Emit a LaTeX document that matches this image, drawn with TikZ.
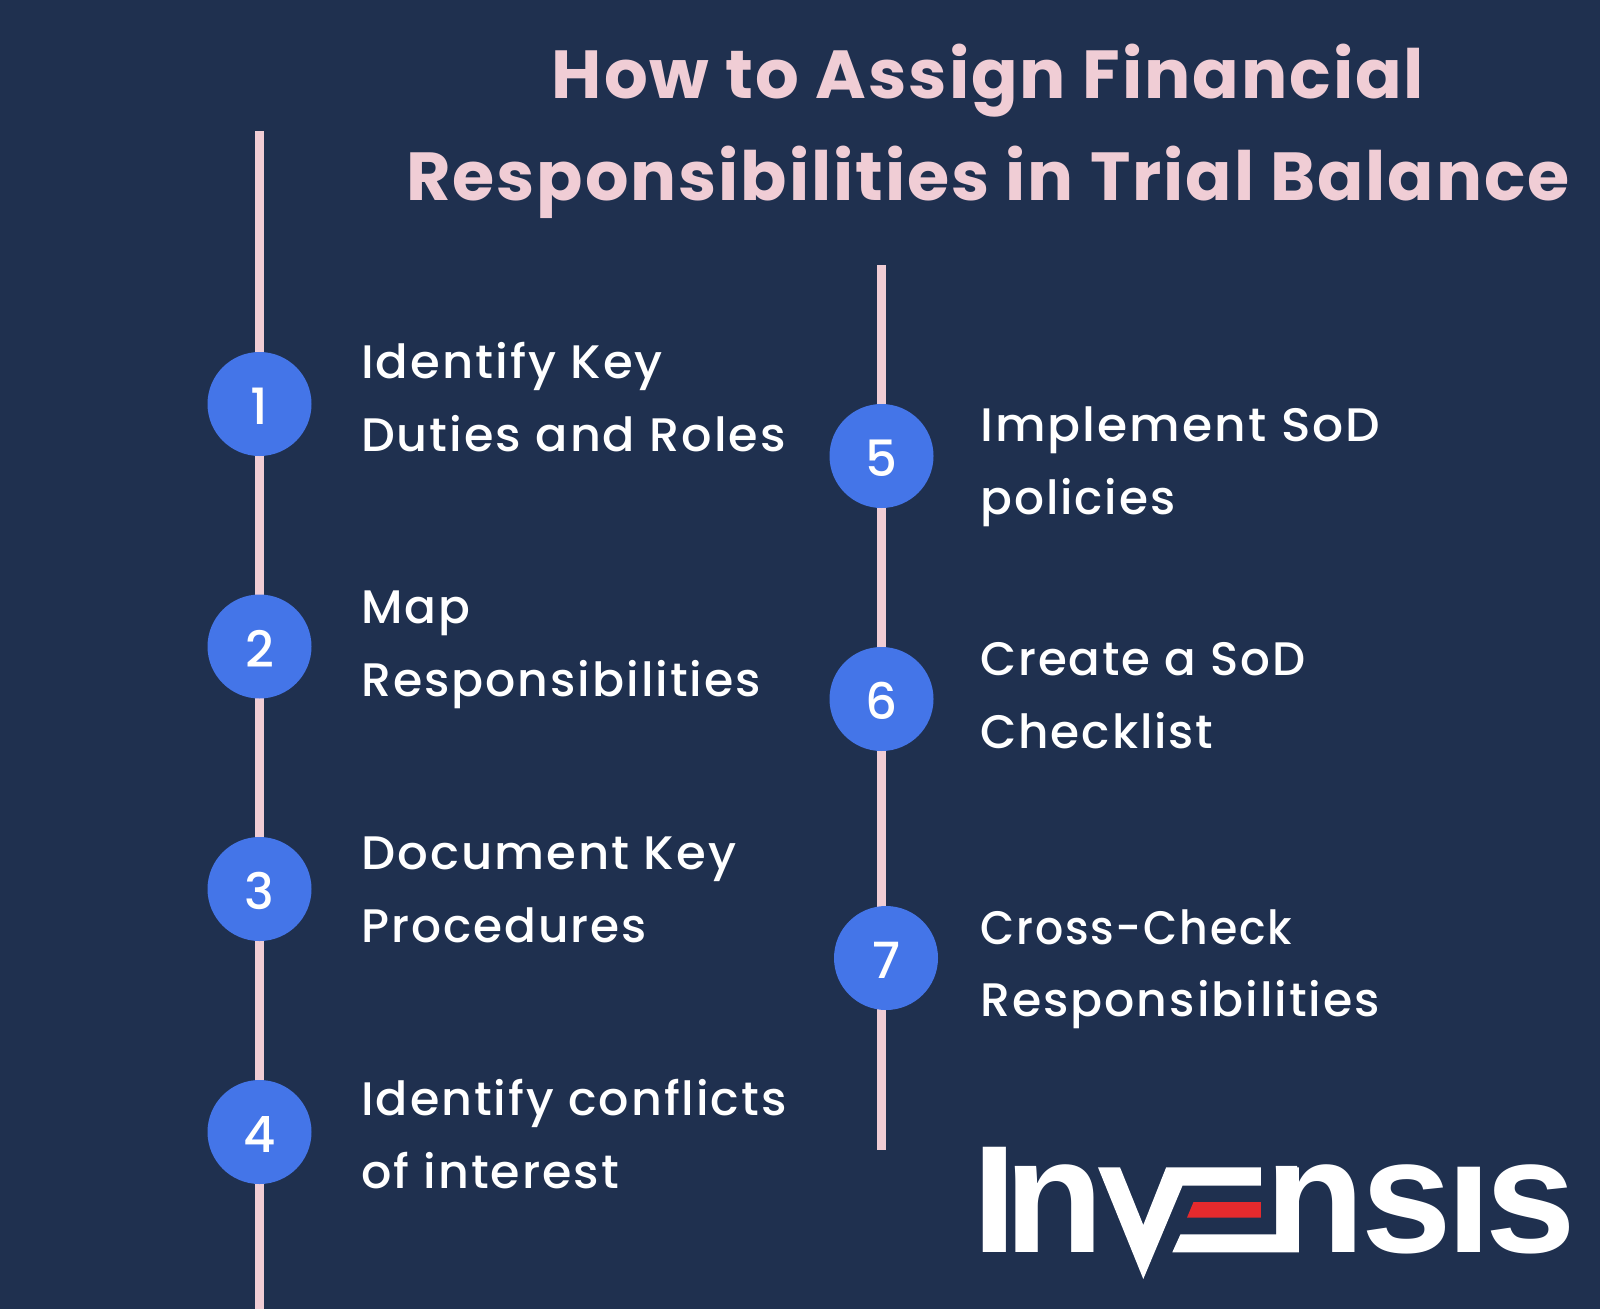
\documentclass[tikz,border=0pt]{standalone}
\usepackage{fontspec}
\setmainfont{Poppins}
\newfontfamily\bodyfont[LetterSpace=4.2]{Poppins Medium}
\newfontfamily\digitfont{Poppins Medium}
\newfontfamily\titlefont[LetterSpace=2.8]{Poppins Bold}
\newfontfamily\logofont{Liberation Sans Bold}
\definecolor{bgc}{HTML}{1F304F}
\definecolor{pinkc}{HTML}{F0CDD5}
\definecolor{bluec}{HTML}{4475E8}
\definecolor{redc}{HTML}{E52A2D}
\tikzset{
  spine/.style={draw=pinkc,line width=9.5pt},
  stepdot/.style={circle,fill=bluec,minimum size=104pt,inner sep=0pt,text=white,text height=41pt,text depth=0pt,font=\digitfont\fontsize{50}{50}\selectfont},
  steptext/.style={anchor=base west,inner sep=0pt,text=white,font=\bodyfont\fontsize{47}{47}\selectfont},
  titletext/.style={anchor=base,inner sep=0pt,text=pinkc,font=\titlefont\fontsize{68}{68}\selectfont},
  logotext/.style={anchor=base west,inner sep=0pt,text=white,font=\logofont\fontsize{163}{163}\selectfont},
}
\newcommand{\wdfit}[2]{\scalebox{#1}[1]{#2}}
\begin{document}
\begin{tikzpicture}[x=1pt,y=-1pt]
\useasboundingbox (0,0) rectangle (1600,1309);
\fill[bgc] (0,0) rectangle (1600,1309);
\node[titletext] (t1) at (988,98.5) {\wdfit{1.011}{How to Assign Financial}};
\node[titletext] (t2) at (988,200.5) {\wdfit{1.005}{Responsibilities in Trial Balance}};
\coordinate (ltop) at (259.5,131);
\coordinate (lbot) at (259.5,1309);
\coordinate (rtop) at (881.5,265);
\coordinate (rbot) at (881.5,1150);
\draw[spine] (ltop) -- (lbot);
\draw[spine] (rtop) -- (rbot);
\node[stepdot] (n1) at (259.5,404) {1};
\node[stepdot] (n2) at (259.5,646.5) {2};
\node[stepdot] (n3) at (259.5,889) {3};
\node[stepdot] (n4) at (259.5,1132) {4};
\node[stepdot] (n5) at (881.5,456) {5};
\node[stepdot] (n6) at (881.5,699) {6};
\node[stepdot] (n7) at (886,958) {7};
\node[steptext] (a1) at (361,378) {\wdfit{1.024}{Identify Key}};
\node[steptext] (a2) at (361,451.5) {\wdfit{1.015}{Duties and Roles}};
\node[steptext] (b1) at (361,623) {Map};
\node[steptext] (b2) at (361,696.5) {\wdfit{1.008}{Responsibilities}};
\node[steptext] (c1) at (361,869) {\wdfit{1.025}{Document Key}};
\node[steptext] (c2) at (361,942.5) {Procedures};
\node[steptext] (d1) at (361,1115) {\wdfit{1.012}{Identify conflicts}};
\node[steptext] (d2) at (361,1188.5) {\wdfit{1.012}{of interest}};
\node[steptext] (e1) at (980,441) {\wdfit{1.037}{Implement SoD}};
\node[steptext] (e2) at (980,514) {policies};
\node[steptext] (f1) at (980,675.5) {\wdfit{.994}{Create a SoD}};
\node[steptext] (f2) at (980,748.5) {Checklist};
\node[steptext] (g1) at (980,944) {\wdfit{.94}{Cross-Check}};
\node[steptext] (g2) at (980,1016.5) {\wdfit{1.008}{Responsibilities}};
% logo
\begin{scope}[shift={(960,1120)},x=0.4082pt,y=-0.3333pt]
\fill[white] (338,142) -- (392,142) -- (449,315) -- (505,142) -- (737,142) -- (737,197) -- (545,197) -- (449,477) -- cycle;
\fill[redc] (572,246) -- (737,246) -- (737,293) -- (556,293) -- cycle;
\fill[white] (540,343) -- (775,343) -- (775,142) -- (830,142) -- (830,397) -- (520,397) -- cycle;
\node[logotext,font=\logofont\fontsize{153}{153}\selectfont] (li) at (31,397) {\scalebox{1.05}[1]{I}};
\node[logotext] (ln) at (108,397) {n};
\node[logotext] (ln2) at (748,397) {n};
\node[logotext] (ls) at (983,397) {s};
\node[logotext,font=\logofont\fontsize{124}{124}\selectfont] (lj) at (1193,397) {\scalebox{1.26}[1]{I}};
\node[logotext] (lt) at (1288,397) {s};
\end{scope}
\end{tikzpicture}
\end{document}
